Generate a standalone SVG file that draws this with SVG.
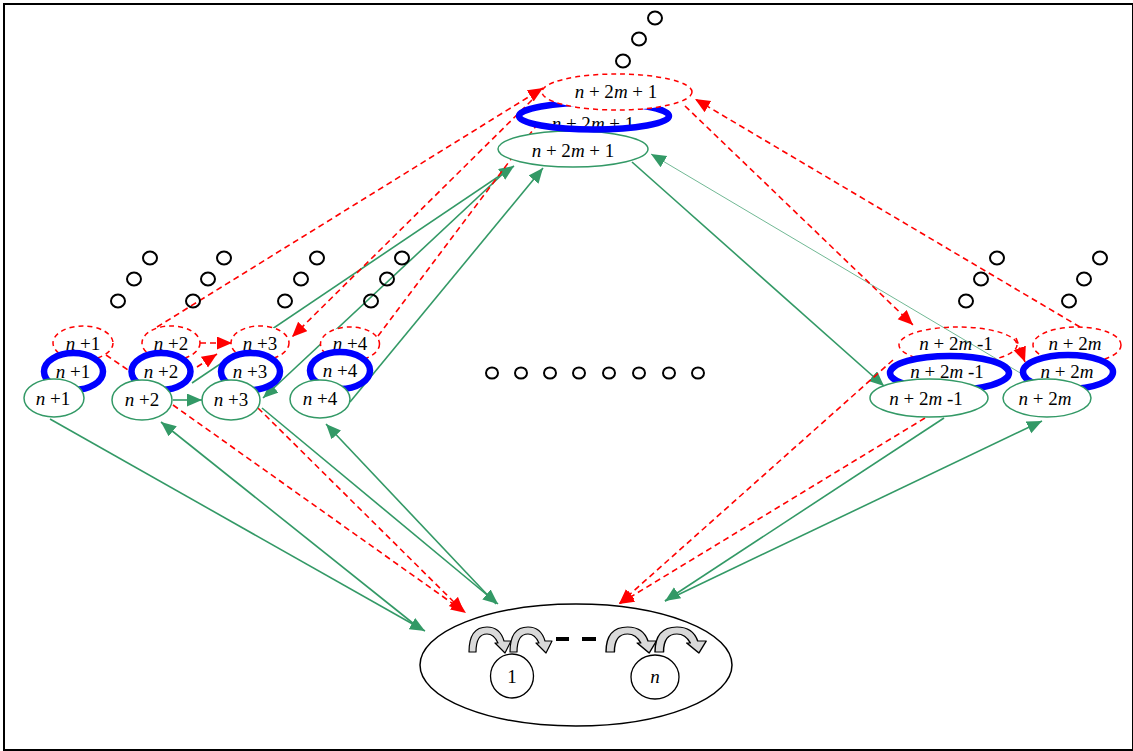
<svg xmlns="http://www.w3.org/2000/svg" width="1133" height="751" viewBox="0 0 1133 751">
  <defs>
    <style>
      .g { stroke: #339966; stroke-width: 1.6; fill: none; }
      .gt { stroke: #339966; stroke-width: 0.7; fill: none; }
      .r { stroke: #ff0000; stroke-width: 1.6; stroke-dasharray: 6 4; fill: none; }
      .ng { fill: #fff; stroke: #339966; stroke-width: 1.5; }
      .nb { fill: #fff; stroke: #0000ff; stroke-width: 6.5; }
      .nbf { fill: #fff; stroke: none; }
      .nbs { fill: none; stroke: #0000ff; stroke-width: 6.5; }
      .nr { fill: #fff; stroke: #ff0000; stroke-width: 1.5; stroke-dasharray: 5 4; }
      .nro { fill: none; stroke: #ff0000; stroke-width: 1.5; stroke-dasharray: 5 4; }
      .dot { fill: none; stroke: #000; stroke-width: 2; }
      .loop { fill: #d9d9d9; stroke: #000; stroke-width: 1.2; stroke-linejoin: round; }
      text { font-family: "Liberation Serif", "Times New Roman", serif; font-size: 19px; text-anchor: middle; fill: #000; }
      .i { font-style: italic; }
    </style>
    <marker id="ag" markerUnits="userSpaceOnUse" markerWidth="16" markerHeight="14" refX="15" refY="6.5" orient="auto">
      <path d="M0,0 L15,6.5 L0,13 z" fill="#339966"/>
    </marker>
    <marker id="ar" markerUnits="userSpaceOnUse" markerWidth="16" markerHeight="14" refX="15" refY="6.5" orient="auto">
      <path d="M0,0 L15,6.5 L0,13 z" fill="#ff0000"/>
    </marker>
    <path id="loop" class="loop" d="M469,652 Q469,627 487,627 Q500,627 504,641 L511,641 L505,653 L495,643 L498,643 Q494,634 487,634 Q476,634 476,652 Z"/>
  </defs>

  <!-- frame -->
  <rect x="4" y="4" width="1129" height="746" fill="#fff" stroke="#000" stroke-width="2"/>

  <!-- connectors -->
  <g id="connectors">
    <!-- green links to/from the core -->
    <line class="g" x1="50" y1="419" x2="425" y2="631" marker-end="url(#ag)"/>
    <line class="g" x1="419" y1="628" x2="161" y2="422" marker-end="url(#ag)"/>
    <line class="g" x1="262" y1="408" x2="498" y2="604" marker-end="url(#ag)"/>
    <line class="g" x1="496" y1="604" x2="326" y2="424" marker-end="url(#ag)"/>
    <line class="g" x1="944" y1="418" x2="665" y2="601" marker-end="url(#ag)"/>
    <line class="g" x1="665" y1="601" x2="1042" y2="421" marker-end="url(#ag)"/>
    <!-- green links between neighbours and the apex -->
    <line class="g" x1="173" y1="400" x2="202" y2="400" marker-end="url(#ag)"/>
    <line class="g" x1="192" y1="383" x2="514" y2="166" marker-end="url(#ag)"/>
    <line class="g" x1="507" y1="170" x2="263" y2="398" marker-end="url(#ag)"/>
    <line class="g" x1="350" y1="402" x2="543" y2="168" marker-end="url(#ag)"/>
    <line class="g" x1="632" y1="162" x2="884" y2="386" marker-end="url(#ag)"/>
    <line class="gt" x1="1027" y1="377" x2="651" y2="154" marker-end="url(#ag)"/>
    <!-- red dashed links -->
    <line class="r" x1="173" y1="405" x2="466" y2="613" marker-end="url(#ar)"/>
    <line class="r" x1="258" y1="408" x2="464" y2="612" marker-end="url(#ar)"/>
    <line class="r" x1="925" y1="418" x2="619" y2="604" marker-end="url(#ar)"/>
    <line class="r" x1="893" y1="360" x2="619" y2="604" marker-end="url(#ar)"/>
    <line class="r" x1="106" y1="355" x2="131" y2="372"/>
    <line class="r" x1="200" y1="343" x2="232" y2="343" marker-end="url(#ar)"/>
    <line class="r" x1="197" y1="367" x2="217" y2="354" marker-end="url(#ar)"/>
    <line class="r" x1="157" y1="327" x2="543" y2="88" marker-end="url(#ar)"/>
    <line class="r" x1="532" y1="100" x2="292" y2="337" marker-end="url(#ar)"/>
    <line class="r" x1="378" y1="336" x2="554" y2="102" marker-end="url(#ar)"/>
    <line class="r" x1="685" y1="106" x2="913" y2="325" marker-end="url(#ar)"/>
    <line class="r" x1="1080" y1="327" x2="695" y2="99" marker-end="url(#ar)"/>
    <line class="r" x1="1016" y1="338" x2="1025" y2="362" marker-end="url(#ar)"/>
  </g>

  <!-- node n+1 -->
  <g id="node-n1">
    <ellipse class="nr" cx="83" cy="343" rx="30" ry="17"/>
    <text x="83" y="350"><tspan class="i">n</tspan> +1</text>
    <ellipse class="nb" cx="73.5" cy="371.5" rx="29.5" ry="18.5"/>
    <text x="73" y="378"><tspan class="i">n</tspan> +1</text>
    <ellipse class="ng" cx="54" cy="398" rx="30" ry="19"/>
    <text x="53" y="405"><tspan class="i">n</tspan> +1</text>
  </g>

  <!-- node n+2 -->
  <g id="node-n2">
    <ellipse class="nr" cx="171" cy="343" rx="29" ry="17"/>
    <text x="171" y="350"><tspan class="i">n</tspan> +2</text>
    <ellipse class="nb" cx="161" cy="371.5" rx="29.5" ry="18.5"/>
    <text x="161" y="378"><tspan class="i">n</tspan> +2</text>
    <ellipse class="ng" cx="142" cy="400" rx="30" ry="20"/>
    <text x="142" y="406"><tspan class="i">n</tspan> +2</text>
  </g>

  <!-- node n+3 -->
  <g id="node-n3">
    <ellipse class="nr" cx="260" cy="343" rx="29" ry="17"/>
    <text x="260" y="350"><tspan class="i">n</tspan> +3</text>
    <ellipse class="nb" cx="250.5" cy="371.5" rx="29.5" ry="18.5"/>
    <text x="250" y="378"><tspan class="i">n</tspan> +3</text>
    <ellipse class="ng" cx="231" cy="400" rx="29" ry="20"/>
    <text x="231" y="406"><tspan class="i">n</tspan> +3</text>
  </g>

  <!-- node n+4 -->
  <g id="node-n4">
    <ellipse class="nr" cx="350" cy="344" rx="29.5" ry="17"/>
    <text x="350" y="350"><tspan class="i">n</tspan> +4</text>
    <ellipse class="nb" cx="340" cy="370.5" rx="30" ry="18.5"/>
    <text x="340" y="377"><tspan class="i">n</tspan> +4</text>
    <ellipse class="ng" cx="320" cy="399" rx="30" ry="19"/>
    <text x="320" y="405"><tspan class="i">n</tspan> +4</text>
  </g>

  <!-- apex node n+2m+1 -->
  <g id="node-top">
    <ellipse class="ng" cx="573" cy="149" rx="75" ry="18"/>
    <text x="573" y="157"><tspan class="i">n</tspan> + 2<tspan class="i">m</tspan> + 1</text>
    <ellipse class="nbf" cx="594" cy="116" rx="75" ry="13"/>
    <text x="593" y="130"><tspan class="i">n</tspan> + 2<tspan class="i">m</tspan> + 1</text>
    <ellipse class="nbs" cx="594" cy="116" rx="75" ry="13.5"/>
    <ellipse class="nr" cx="617" cy="92" rx="75" ry="18"/>
    <text x="616" y="98"><tspan class="i">n</tspan> + 2<tspan class="i">m</tspan> + 1</text>
  </g>

  <!-- node n+2m-1 -->
  <g id="node-n2m-1">
    <ellipse class="nro" cx="958" cy="345" rx="59" ry="18"/>
    <text x="956" y="350"><tspan class="i">n</tspan> + 2<tspan class="i">m</tspan> -1</text>
    <ellipse class="nb" cx="949.5" cy="373" rx="59.5" ry="17"/>
    <text x="947" y="378"><tspan class="i">n</tspan> + 2<tspan class="i">m</tspan> -1</text>
    <ellipse class="ng" cx="929" cy="398" rx="59" ry="19"/>
    <text x="926" y="405"><tspan class="i">n</tspan> + 2<tspan class="i">m</tspan> -1</text>
  </g>

  <!-- node n+2m -->
  <g id="node-n2m">
    <ellipse class="nr" cx="1077" cy="345" rx="44" ry="18"/>
    <text x="1075" y="350"><tspan class="i">n</tspan> + 2<tspan class="i">m</tspan></text>
    <ellipse class="nb" cx="1068" cy="372" rx="45" ry="17"/>
    <text x="1067" y="378"><tspan class="i">n</tspan> + 2<tspan class="i">m</tspan></text>
    <ellipse class="ng" cx="1047" cy="398" rx="44" ry="19"/>
    <text x="1045" y="405"><tspan class="i">n</tspan> + 2<tspan class="i">m</tspan></text>
  </g>

  <!-- core: self-looping units 1 ... n -->
  <g id="node-core">
    <ellipse cx="576" cy="665" rx="156" ry="61" fill="#fff" stroke="#000" stroke-width="1.5"/>
    <use href="#loop"/>
    <use href="#loop" transform="translate(41,0)"/>
    <rect x="556" y="637" width="13" height="4" fill="#000"/>
    <rect x="582" y="637" width="14" height="4" fill="#000"/>
    <use href="#loop" transform="translate(606,0) scale(1.2,1) translate(-469,0)"/>
    <use href="#loop" transform="translate(655,0) scale(1.22,1) translate(-469,0)"/>
    <ellipse cx="512" cy="676" rx="21.5" ry="22" fill="#fff" stroke="#000" stroke-width="1.3"/>
    <text x="512" y="683">1</text>
    <ellipse cx="655" cy="677" rx="24" ry="22" fill="#fff" stroke="#000" stroke-width="1.3"/>
    <text x="655" y="683" class="i">n</text>
  </g>

  <!-- ellipsis marks -->
  <g id="ellipses">
    <ellipse class="dot" cx="118" cy="301" rx="7" ry="6.5"/>
    <ellipse class="dot" cx="134" cy="279" rx="7" ry="6.5"/>
    <ellipse class="dot" cx="150" cy="258" rx="7" ry="6.5"/>
    <ellipse class="dot" cx="193" cy="301" rx="7" ry="6.5"/>
    <ellipse class="dot" cx="208" cy="279" rx="7" ry="6.5"/>
    <ellipse class="dot" cx="224" cy="258" rx="7" ry="6.5"/>
    <ellipse class="dot" cx="285" cy="301" rx="7" ry="6.5"/>
    <ellipse class="dot" cx="301" cy="279" rx="7" ry="6.5"/>
    <ellipse class="dot" cx="317" cy="258" rx="7" ry="6.5"/>
    <ellipse class="dot" cx="371" cy="301" rx="7" ry="6.5"/>
    <ellipse class="dot" cx="387" cy="279" rx="7" ry="6.5"/>
    <ellipse class="dot" cx="402" cy="258" rx="7" ry="6.5"/>
    <ellipse class="dot" cx="966" cy="301" rx="7" ry="6.5"/>
    <ellipse class="dot" cx="981" cy="279" rx="7" ry="6.5"/>
    <ellipse class="dot" cx="997" cy="258" rx="7" ry="6.5"/>
    <ellipse class="dot" cx="1069" cy="301" rx="7" ry="6.5"/>
    <ellipse class="dot" cx="1084" cy="279" rx="7" ry="6.5"/>
    <ellipse class="dot" cx="1100" cy="258" rx="7" ry="6.5"/>
    <ellipse class="dot" cx="623" cy="61" rx="7" ry="6.5"/>
    <ellipse class="dot" cx="639" cy="39" rx="7" ry="6.5"/>
    <ellipse class="dot" cx="655" cy="18" rx="7" ry="6.5"/>
    <ellipse class="dot" cx="492" cy="373" rx="6" ry="5.5"/>
    <ellipse class="dot" cx="521" cy="373" rx="6" ry="5.5"/>
    <ellipse class="dot" cx="550" cy="373" rx="6" ry="5.5"/>
    <ellipse class="dot" cx="579" cy="373" rx="6" ry="5.5"/>
    <ellipse class="dot" cx="609" cy="373" rx="6" ry="5.5"/>
    <ellipse class="dot" cx="639" cy="373" rx="6" ry="5.5"/>
    <ellipse class="dot" cx="669" cy="373" rx="6" ry="5.5"/>
    <ellipse class="dot" cx="698" cy="373" rx="6" ry="5.5"/>
  </g>
</svg>
